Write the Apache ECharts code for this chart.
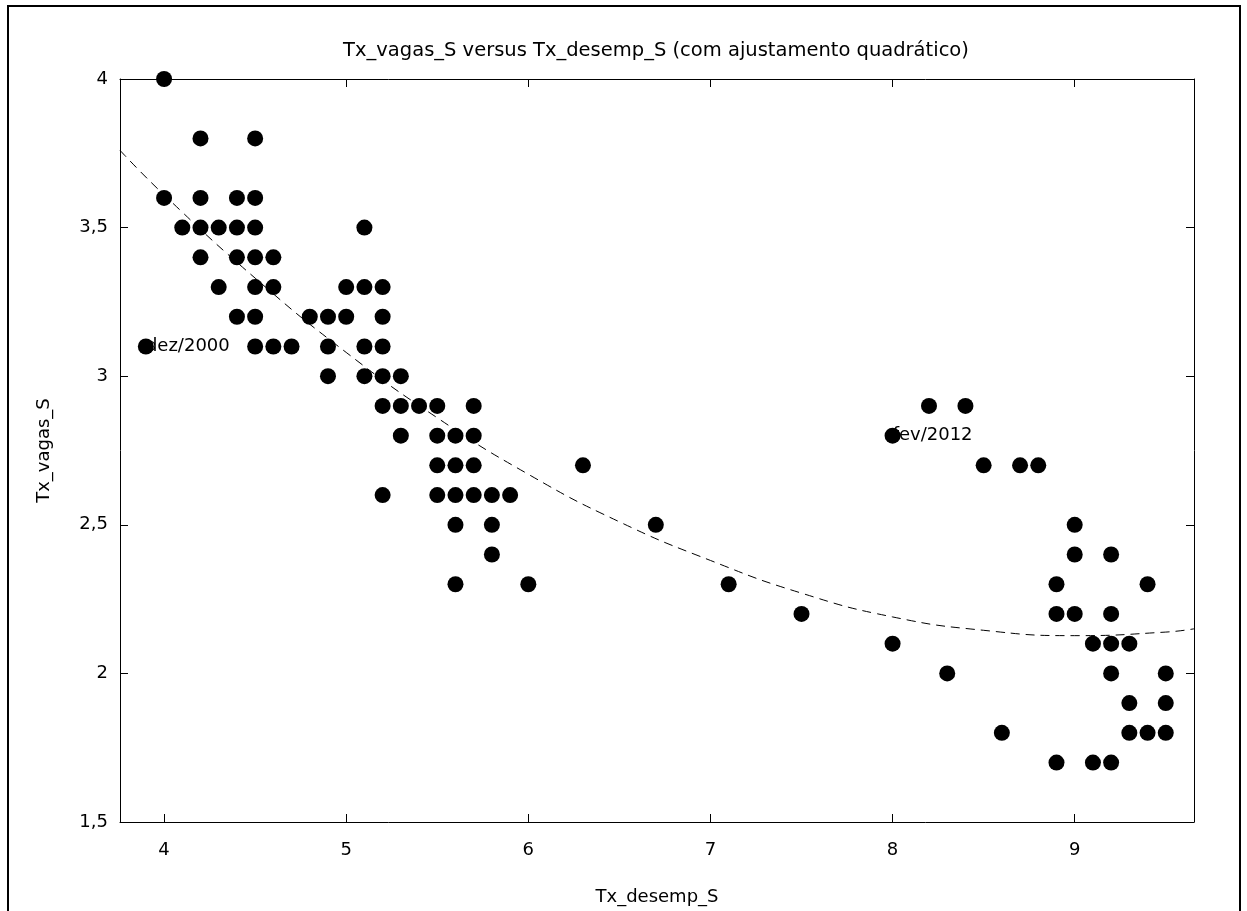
<!DOCTYPE html>
<html>
<head>
<meta charset="utf-8">
<script src="https://cdn.jsdelivr.net/npm/echarts@6/dist/echarts.min.js"></script>
<style>html,body{margin:0;padding:0;background:#fff;}#c{width:1247px;height:911px;}</style>
</head>
<body>
<div id="c"></div>
<script>
// Scatter data: Tx_desemp_S (x) and Tx_vagas_S (y)
var xValues = [
  4.0, 4.0, 3.9, 4.1,
  4.2, 4.2, 4.2, 4.2,
  4.3, 4.3,
  4.4, 4.4, 4.4, 4.4,
  4.5, 4.5, 4.5, 4.5, 4.5, 4.5, 4.5,
  4.6, 4.6, 4.6, 4.7, 4.8,
  4.9, 4.9, 4.9, 5.0, 5.0,
  5.1, 5.1, 5.1, 5.1,
  5.2, 5.2, 5.2, 5.2, 5.2, 5.2,
  5.3, 5.3, 5.3, 5.4,
  5.5, 5.5, 5.5, 5.5,
  5.6, 5.6, 5.6, 5.6, 5.6,
  5.7, 5.7, 5.7, 5.7,
  5.8, 5.8, 5.8, 5.9, 6.0, 6.3, 6.7, 7.1, 7.5,
  8.0, 8.0, 8.2, 8.3, 8.4, 8.5, 8.6, 8.7, 8.8,
  8.9, 8.9, 8.9, 9.0, 9.0, 9.0, 9.1, 9.1,
  9.2, 9.2, 9.2, 9.2, 9.2,
  9.3, 9.3, 9.3, 9.4, 9.4, 9.5, 9.5, 9.5
];
var yValues = [
  4.0, 3.6, 3.1, 3.5,
  3.8, 3.6, 3.5, 3.4,
  3.5, 3.3,
  3.6, 3.5, 3.4, 3.2,
  3.8, 3.6, 3.5, 3.4, 3.3, 3.2, 3.1,
  3.4, 3.3, 3.1, 3.1, 3.2,
  3.2, 3.1, 3.0, 3.3, 3.2,
  3.5, 3.3, 3.1, 3.0,
  3.3, 3.2, 3.1, 3.0, 2.9, 2.6,
  3.0, 2.9, 2.8, 2.9,
  2.9, 2.8, 2.7, 2.6,
  2.8, 2.7, 2.6, 2.5, 2.3,
  2.9, 2.8, 2.7, 2.6,
  2.6, 2.5, 2.4, 2.6, 2.3, 2.7, 2.5, 2.3, 2.2,
  2.8, 2.1, 2.9, 2.0, 2.9, 2.7, 1.8, 2.7, 2.7,
  2.3, 2.2, 1.7, 2.5, 2.4, 2.2, 2.1, 1.7,
  2.4, 2.2, 2.1, 2.0, 1.7,
  2.1, 1.9, 1.8, 2.3, 1.8, 2.0, 1.9, 1.8
];
// Point labels
var labelNames = ['dez/2000', 'fev/2012'];
var labelX = [3.9, 8.0];
var labelY = [3.1, 2.8];
// Quadratic fit curve
var fitX = [3.758, 4.0, 4.5, 5.0, 5.5, 6.0, 6.5, 7.0, 7.5, 8.0, 8.5, 9.0, 9.5, 9.655];
var fitY = [3.76, 3.61, 3.33, 3.08, 2.86, 2.67, 2.51, 2.38, 2.27, 2.19, 2.145, 2.127, 2.139, 2.15];
// Ticks
var xTicks = [4, 5, 6, 7, 8, 9];
var yTicks = [1.5, 2, 2.5, 3, 3.5, 4];

var FONT = 'DejaVu Sans';
var FS = 18;
var chart = echarts.init(document.getElementById('c'), null, {renderer: 'canvas'});

var pts = xValues.map(function (x, i) { return [x, yValues[i]]; });
var labs = labelNames.map(function (n, i) { return {name: n, value: [labelX[i], labelY[i]]}; });
var fit = fitX.map(function (x, i) { return [x, fitY[i]]; });

function fmt(v) { return String(v).replace('.', ','); }

var xMin = 3.758, xMax = 9.655;
var tickStyle = {show: true, inside: true, length: 8, lineStyle: {color: '#000', width: 1}};
var lineStyle = {show: true, lineStyle: {color: '#000', width: 1}};

chart.setOption({
  animation: false,
  backgroundColor: '#fff',
  title: {
    text: 'Tx_vagas_S versus Tx_desemp_S (com ajustamento quadrático)',
    left: 651, top: 36, textAlign: 'center',
    textStyle: {fontFamily: FONT, fontSize: 19.5, fontWeight: 'normal', color: '#000'}
  },
  graphic: [{
    type: 'rect', shape: {x: 8, y: 6, width: 1232, height: 1000},
    style: {fill: 'none', stroke: '#000', lineWidth: 2}, silent: true
  }],
  grid: {left: 120, right: 53, top: 79, bottom: 89, containLabel: false},
  xAxis: [{
    type: 'value', min: xMin, max: xMax, position: 'bottom',
    name: 'Tx_desemp_S', nameLocation: 'middle', nameGap: 66,
    nameTextStyle: {fontFamily: FONT, fontSize: FS, color: '#000'},
    axisLine: lineStyle,
    axisTick: Object.assign({customValues: xTicks}, tickStyle),
    axisLabel: {customValues: xTicks, margin: 19, fontFamily: FONT, fontSize: FS, color: '#000', formatter: fmt},
    splitLine: {show: false}
  }, {
    type: 'value', min: xMin, max: xMax, position: 'top',
    axisLine: lineStyle,
    axisTick: Object.assign({customValues: xTicks}, tickStyle),
    axisLabel: {show: false},
    splitLine: {show: false}
  }],
  yAxis: [{
    type: 'value', min: 1.5, max: 4, interval: 0.5, position: 'left',
    name: 'Tx_vagas_S', nameLocation: 'middle', nameGap: 67, nameRotate: 90,
    nameTextStyle: {fontFamily: FONT, fontSize: FS, color: '#000'},
    axisLine: lineStyle,
    axisTick: tickStyle,
    axisLabel: {margin: 12, fontFamily: FONT, fontSize: FS, color: '#000', formatter: fmt},
    splitLine: {show: false}
  }, {
    type: 'value', min: 1.5, max: 4, interval: 0.5, position: 'right',
    axisLine: lineStyle,
    axisTick: tickStyle,
    axisLabel: {show: false},
    splitLine: {show: false}
  }],
  series: [{
    type: 'scatter', name: 'labels', data: labs, z: 1,
    symbolSize: 0.1, itemStyle: {color: 'rgba(0,0,0,0)', opacity: 1},
    label: {
      show: true, position: 'right', distance: 0,
      formatter: function (p) { return p.name; },
      fontFamily: FONT, fontSize: FS, color: '#000', opacity: 1
    },
    silent: true
  }, {
    type: 'line', name: 'fit', data: fit, z: 2,
    smooth: true, showSymbol: false,
    lineStyle: {color: '#000', width: 1, type: [9, 6]}
  }, {
    type: 'scatter', name: 'pontos', data: pts, z: 3,
    symbol: 'circle', symbolSize: 16,
    itemStyle: {color: '#000', opacity: 1}
  }]
});
</script>
</body>
</html>
